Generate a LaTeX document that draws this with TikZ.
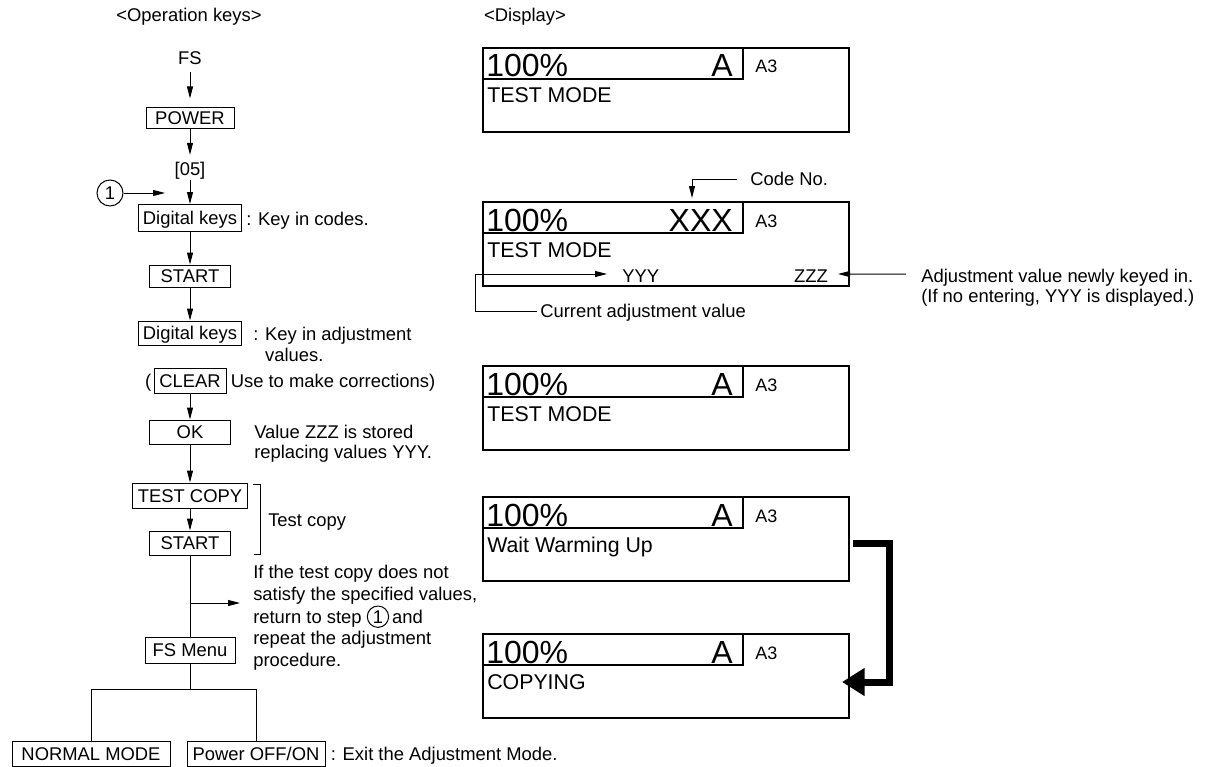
\documentclass[tikz,border=0pt]{standalone}
\usepackage{fontspec}
\setmainfont{Liberation Sans}
\usetikzlibrary{arrows.meta}
\newcommand\mainsz{\fontsize{13.8pt}{16.1pt}\selectfont}
\newcommand\circone{\tikz[baseline=(cone.base)]\node[draw, circle, line width=0.75pt, inner sep=0pt, minimum size=16pt, font=\mainsz, text height=9.9pt, text depth=0pt] (cone) {1};}
\newcommand\lcdpanel[4]{%
  \node[panel] (#1) at (483,#2) {};
  \node[panelin] (#1b) at (483,#2) {};
  \node[bigtxt, anchor=base west] (#1pct) at (486,#2+29) {100\%};
  \node[bigtxt, anchor=base east] (#1mode) at (733,#2+29) {#3};
  \node[sztxt, anchor=base west] (#1sz) at (755,#2+25) {A3};
  \node[lcdtxt, anchor=base west] (#1msg) at (487,#2+55) {#4};
}
\tikzset{
  txt/.style={inner sep=0pt, font=\mainsz, text height=9.9pt, text depth=0pt},
  mtxt/.style={inner sep=0pt, font=\mainsz, align=left, anchor=north west},
  keybox/.style 2 args={draw, line width=0.75pt, inner sep=0pt, font=\mainsz,
    text height=9.9pt, text depth=0pt, minimum width=#1*0.75pt, minimum height=#2*0.75pt},
  arr/.style={line width=0.75pt, -{Triangle[length=9pt,width=4.5pt]}},
  ln/.style={line width=0.75pt},
  panel/.style={draw, line width=0.9pt, anchor=north west, inner sep=0pt, outer sep=0pt,
    minimum width=366*0.75pt, minimum height=84*0.75pt},
  panelin/.style={draw, line width=0.9pt, anchor=north west, inner sep=0pt, outer sep=0pt,
    minimum width=260*0.75pt, minimum height=31*0.75pt},
  bigtxt/.style={inner sep=0pt, font=\fontsize{24pt}{24pt}\selectfont},
  sztxt/.style={inner sep=0pt, font=\fontsize{13.5pt}{14pt}\selectfont},
  lcdtxt/.style={inner sep=0pt, font=\fontsize{16pt}{18pt}\selectfont},
  thickarr/.style={line width=5.25pt, -{Triangle[length=17pt,width=20pt]}},
}
\begin{document}
\begin{tikzpicture}[x=0.75pt,y=-0.75pt]
\useasboundingbox (0,0) rectangle (1206,767);
% headings
\node[txt] (opk) at (189,15) {<Operation keys>};
\node[txt] (disp) at (525,15) {<Display>};
% left column
\node[txt] (fs) at (190,58) {FS};
\node[keybox={88}{21}] (power) at (190,117.5) {POWER};
\node[txt] (c05) at (190,169) {[05]};
\node[circle, draw, ln, inner sep=0pt, minimum size=26*0.75pt, font=\mainsz] (one) at (110,193) {1};
\coordinate (onetip) at (165,193);
\node[keybox={103}{27}] (dk1) at (190,218) {Digital keys};
\node[txt, anchor=west] (dk1n) at (246,219) {: Key in codes.};
\node[keybox={81}{22}] (start1) at (190,276) {START};
\node[keybox={103}{24}] (dk2) at (190,333) {Digital keys};
\node[mtxt] (dk2n) at (253,326.4) {: Key in adjustment\\\phantom{: }values.};
\node[keybox={72}{25}] (clear) at (190,380.5) {CLEAR};
\node[txt, anchor=east] (lpar) at ([shift={(-2,0)}]clear.west) {(};
\node[txt, anchor=west] (clearn) at ([shift={(4,0)}]clear.east) {Use to make corrections)};
\node[keybox={81}{24}] (ok) at (190,432) {OK};
\node[mtxt, font=\fontsize{13.8pt}{15pt}\selectfont] (okn) at (254,425.3) {Value ZZZ is stored\\replacing values YYY.};
\node[keybox={115}{25}] (tcopy) at (190,495.5) {TEST COPY};
\node[keybox={81}{24}] (start2) at (190,543) {START};
\draw[ln] (253,484) -| (260,554) -- (254,554);
\node[txt, anchor=west] (tcn) at (268,520) {Test copy};
\node[mtxt] (retn) at (253,565.3) {If the test copy does not\\satisfy the specified values,\\return to step \circone\,and\\repeat the adjustment\\procedure.};
\node[keybox={90}{26}] (fsmenu) at (190,650) {FS Menu};
\node[keybox={158}{25}] (normal) at (91,754) {NORMAL MODE};
\node[keybox={138}{25}] (poweroff) at (256,754) {Power OFF/ON};
\node[txt, anchor=west] (exitn) at ([shift={(5,0)}]poweroff.east) {: Exit the Adjustment Mode.};
% left connectors
\draw[arr, shorten <=5.5pt, shorten >=6pt] (fs) -- (power);
\draw[arr, shorten >=5.5pt] (power) -- (c05);
\draw[arr, shorten <=3.3pt] (c05) -- (dk1);
\draw[arr] (one) -- (onetip);
\draw[arr] (dk1) -- (start1);
\draw[arr] (start1) -- (dk2);
\draw[arr] (clear) -- (ok);
\draw[arr] (ok) -- (tcopy);
\draw[arr] (tcopy) -- (start2);
\draw[ln] (start2) -- (fsmenu);
\coordinate (brtip) at (240,603);
\draw[arr] (brtip -| start2.south) -- (brtip);
\draw[ln] (fsmenu.south) -- ++(0,26) coordinate (split);
\draw[ln] (normal.north) |- (split) -| (poweroff.north);
% displays
\lcdpanel{pa}{48}{A}{TEST MODE}
\lcdpanel{pb}{202}{XXX}{TEST MODE}
\lcdpanel{pc}{366}{A}{TEST MODE}
\lcdpanel{pd}{497}{A}{Wait Warming Up}
\lcdpanel{pe}{634}{A}{COPYING}
% display 2 annotations
\node[txt, anchor=base west] (yyy) at (622,282) {YYY};
\node[txt, anchor=base east] (zzz) at (828,282) {ZZZ};
\node[txt, anchor=west] (codeno) at (750,179) {Code No.};
\coordinate (cntip) at (692,198);
\draw[arr] ([shift={(-13,0)}]codeno.west) -| (cntip);
\node[txt, anchor=west] (cur) at (540,311) {Current adjustment value};
\coordinate (ycorner) at (475,274);
\coordinate (ytip) at (607,274);
\draw[arr] ([shift={(-3,0)}]cur.west) -| (ycorner) -- (ytip);
\node[mtxt, font=\fontsize{13.8pt}{15pt}\selectfont] (adjn) at (921,268.4) {Adjustment value newly keyed in.\\(If no entering, YYY is displayed.)};
\coordinate (ztip) at (838,274);
\draw[arr] ([shift={(-15,5.6)}]adjn.north west) -- (ztip);
% thick arrow
\draw[thickarr] ([shift={(4,4)}]pd.east) -| ([shift={(40,6)}]pe.east) -- ([shift={(-7,6)}]pe.east);
\end{tikzpicture}
\end{document}
